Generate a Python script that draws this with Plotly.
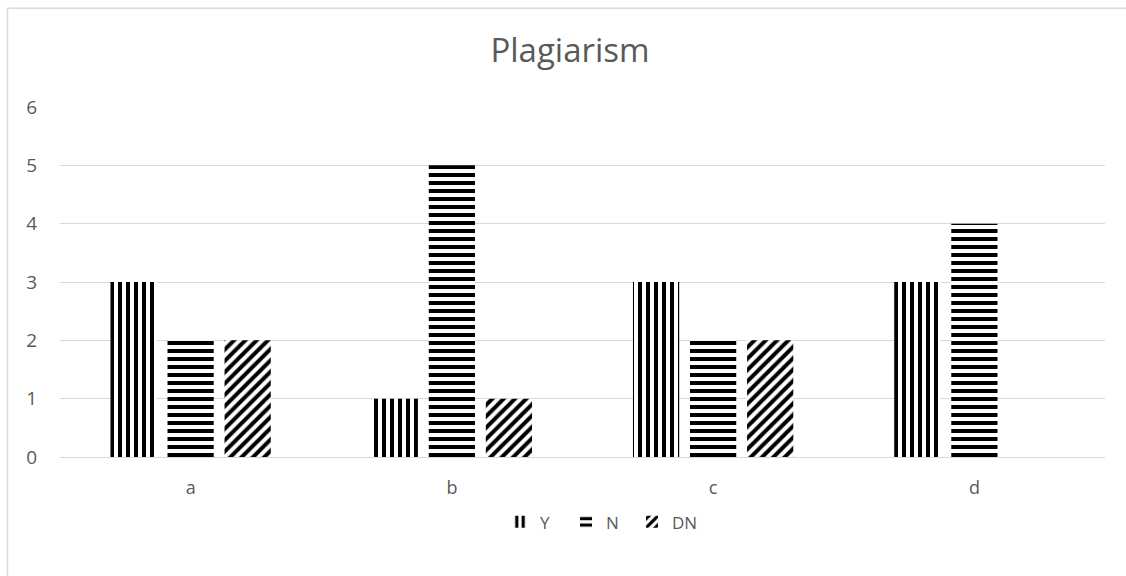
import plotly.graph_objects as go

categories = ["a", "b", "c", "d"]
y_vals = [3, 1, 3, 3]
n_vals = [2, 5, 2, 4]
dn_vals = [2, 1, 2, 0]
series_names = ["Y", "N", "DN"]
y_ticks = [0, 1, 2, 3, 4, 5, 6]

FONT = "Open Sans"
TEXT = "#595959"
GRID = "#d9d9d9"

patterns = {"Y": "|", "N": "-", "DN": "/"}
values = {"Y": y_vals, "N": n_vals, "DN": dn_vals}

fig = go.Figure()
for name in series_names:
    fig.add_trace(go.Bar(
        x=categories,
        y=values[name],
        name=name,
        marker=dict(
            color="white",
            line=dict(width=0),
            pattern=dict(shape=patterns[name], fgcolor="black", bgcolor="white",
                         size=8, solidity=0.5, fillmode="replace"),
        ),
    ))

L, R, T, B = 60, 21, 106.5, 118.5
W, H = 1126, 576
pw = W - L - R
ph = H - T - B

fig.update_layout(
    width=W, height=H,
    margin=dict(l=L, r=R, t=T, b=B, pad=0),
    paper_bgcolor="white",
    plot_bgcolor="white",
    barmode="group",
    bargap=0.345,
    bargroupgap=0.19,
    font=dict(family=FONT, color=TEXT, size=17),
    title=dict(text="Plagiarism", x=(570 - L) / pw, xref="paper", xanchor="center",
               y=1 - 50 / H, yanchor="middle", yref="container",
               font=dict(family=FONT, size=33, color=TEXT)),
    showlegend=True,
    legend=dict(orientation="h", x=(599 - L) / pw, xanchor="center",
                y=-(523 - (H - B)) / ph, yanchor="middle",
                font=dict(size=17, color=TEXT), entrywidth=21,
                bgcolor="rgba(0,0,0,0)"),
    xaxis=dict(showgrid=False, showline=False, zeroline=False, ticks="",
               tickfont=dict(size=18, color=TEXT), ticklabelstandoff=18),
    yaxis=dict(range=[0, 6], tickvals=y_ticks, showgrid=True, gridcolor=GRID,
               gridwidth=1, zeroline=True, zerolinecolor=GRID, zerolinewidth=1,
               showline=False, ticks="", tickfont=dict(size=19, color=TEXT),
               ticklabelstandoff=22),
)

# chart area border
fig.add_shape(type="rect", xref="paper", yref="paper",
              x0=(7.5 - L) / pw, x1=1.2, y0=-0.6, y1=(H - B - 7.5) / ph,
              line=dict(color=GRID, width=1.5), fillcolor="rgba(0,0,0,0)", layer="below")

fig.write_html("out.html")
